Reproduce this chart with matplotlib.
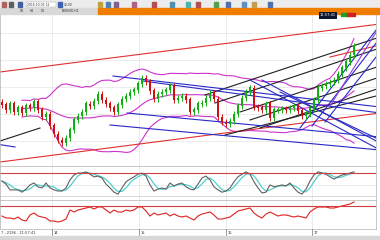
import numpy as np
import pandas as pd
import matplotlib
matplotlib.use("Agg")
import matplotlib.pyplot as plt
from matplotlib.patches import Rectangle

# closes (one per bar)
closes = [1.3061, 1.3056, 1.3062, 1.3054, 1.3058, 1.3053, 1.3060, 1.3058, 1.3064, 1.3056,
          1.3049, 1.3052, 1.3040, 1.3032, 1.3026, 1.3023, 1.3028, 1.3036, 1.3046, 1.3050,
          1.3054, 1.3062, 1.3060, 1.3065, 1.3072, 1.3066, 1.3062, 1.3058, 1.3054, 1.3061,
          1.3067, 1.3070, 1.3074, 1.3076, 1.3082, 1.3088, 1.3084, 1.3075, 1.3067, 1.3072,
          1.3074, 1.3076, 1.3080, 1.3066, 1.3068, 1.3070, 1.3066, 1.3054, 1.3056, 1.3062,
          1.3063, 1.3068, 1.3073, 1.3067, 1.3049, 1.3044, 1.3042, 1.3045, 1.3052, 1.3060,
          1.3068, 1.3074, 1.3078, 1.3059, 1.3058, 1.3056, 1.3062, 1.3048, 1.3056, 1.3056,
          1.3057, 1.3056, 1.3058, 1.3060, 1.3055, 1.3050, 1.3052, 1.3058, 1.3066, 1.3078,
          1.3080, 1.3082, 1.3084, 1.3086, 1.3092, 1.3098, 1.3104, 1.3111, 1.3120]

stoch_k = [59, 51, 36, 36, 36, 30, 38, 49, 54, 44, 41, 54, 41, 36, 33, 33, 41, 62, 75, 80,
           80, 83, 77, 70, 72, 67, 51, 41, 30, 25, 41, 57, 64, 70, 77, 80, 72, 49, 33, 38,
           41, 38, 54, 46, 51, 54, 44, 38, 36, 51, 67, 72, 62, 44, 36, 30, 33, 41, 57, 70,
           77, 83, 77, 57, 41, 28, 30, 49, 44, 46, 49, 46, 54, 41, 30, 25, 38, 59, 75, 83,
           80, 77, 70, 64, 70, 75, 77, 80, 83]

rsi = [50, 46, 46, 44, 48, 42, 40, 52, 56, 50, 48, 46, 40, 40, 38, 40, 44, 62, 58, 62,
       64, 66, 68, 64, 68, 68, 62, 56, 62, 58, 58, 62, 60, 62, 68, 68, 60, 50, 56, 52,
       54, 56, 50, 54, 50, 48, 50, 46, 42, 50, 54, 56, 58, 52, 44, 44, 46, 48, 54, 60,
       62, 64, 66, 56, 50, 46, 54, 58, 54, 50, 52, 52, 50, 48, 50, 48, 46, 58, 64, 68,
       68, 68, 66, 66, 68, 70, 72, 74, 78]

# drawn objects: (bar0, price0, bar1, price1)
red_lines = [(-0.5, 1.3094, 94.5, 1.3142), (-0.5, 1.3004, 94.5, 1.3053),
             (82, 1.3109, 94.5, 1.3121)]
black_lines = [(-0.5, 1.3025, 9.5, 1.3038), (50.75, 1.3071, 94.5, 1.3129),
               (53.25, 1.3063, 94.5, 1.3118), (59.5, 1.3054, 94.5, 1.3100),
               (62, 1.3046, 94.5, 1.3089), (64.5, 1.3038, 94.5, 1.3078),
               (55.75, 1.3031, 94.5, 1.3071)]
blue_lines = [(27.75, 1.3090, 94.5, 1.3059), (35.25, 1.3085, 94.5, 1.3053),
              (31.25, 1.3053, 94.5, 1.3029), (27, 1.3041, 94.5, 1.3016),
              (-3, 1.3023, 3.25, 1.3019), (62, 1.3086, 94.5, 1.3016),
              (65, 1.3086, 94.5, 1.3023), (69.5, 1.3074, 94.5, 1.3026),
              (74.5, 1.3038, 94.5, 1.3141), (77.5, 1.3040, 94.5, 1.3128),
              (80.75, 1.3044, 94.5, 1.3114)]
violet_lines = [(82, 1.3060, 94.5, 1.3140)]

day_bars = [12.5, 34.25, 56, 77.5]
day_labels = ["14", "15", "16", "17"]

W, H = 380, 240
fig = plt.figure(figsize=(3.8, 2.4), dpi=100)
fig.patch.set_facecolor("white")

def box(x, y, w, h):
    # pixel box -> figure fraction
    return [x / W, 1 - (y + h) / H, w / W, h / H]

# toolbar + tab row
fig.patches.append(Rectangle((0, 1 - 8 / H), 1, 8 / H, transform=fig.transFigure,
                             color="#ececec", zorder=0))
fig.patches.append(Rectangle((0, 1 - 14 / H), 98 / W, 6 / H, transform=fig.transFigure,
                             color="#d8d8d8", zorder=0))
fig.patches.append(Rectangle((98 / W, 1 - 14 / H), 1, 6 / H, transform=fig.transFigure,
                             color="#f07c00", zorder=0))
icons = [(2, "#b06060"), (9, "#606060"), (18, "#4060a0"), (58, "#4060b0"), (98, "#c0a040"),
         (106, "#5080b0"), (114, "#806090"), (132, "#b06080"), (152, "#b05050"),
         (170, "#5090b0"), (186, "#50b0b0"), (196, "#b05050"), (214, "#50a050"),
         (226, "#5070b0"), (242, "#6090c0"), (252, "#c0a050"), (268, "#5070b0")]
for ix, col in icons:
    fig.patches.append(Rectangle((ix / W, 1 - 6.5 / H), 4 / W, 4 / H,
                                 transform=fig.transFigure, color=col, zorder=1))
fig.patches.append(Rectangle((26 / W, 1 - 7 / H), 30 / W, 5 / H, transform=fig.transFigure,
                             facecolor="white", edgecolor="#a0a0a0", lw=0.3, zorder=1))
fig.text(27 / W, 1 - 4.5 / H, "2016.10.05 12", fontsize=2.2, va="center", color="#333333")
fig.text(64 / W, 1 - 4.5 / H, "12:00", fontsize=2.2, va="center", color="#333333")
for tx, lab in [(20, "H1"), (30, "H4"), (41, "D1"), (62, "EURUSD,H1")]:
    fig.text(tx / W, 1 - 11 / H, lab, fontsize=2.2, va="center", color="#333333")

# main chart
ax = fig.add_axes(box(0, 14, 376, 152))
x = np.arange(len(closes))
c = np.array(closes)
o = np.concatenate([[c[0] + 0.0003], c[:-1]])
hi = np.maximum(o, c) + 0.0003
lo = np.minimum(o, c) - 0.0003
up = c >= o
col = np.where(up, "#10b010", "#d01010")
ax.vlines(x, lo, hi, colors=col, lw=0.7, zorder=3)
ax.bar(x, np.abs(c - o) + 0.00005, bottom=np.minimum(o, c), width=0.55, color=col,
       zorder=4, linewidth=0)

s = pd.Series(c)
mid = s.rolling(20, min_periods=6).mean()
sd = s.rolling(20, min_periods=6).std(ddof=0)
for band in (mid + 2.5 * sd, mid, mid - 2.5 * sd):
    ax.plot(x, band, color="#cc33cc", lw=0.8, zorder=2)

for group, colr in [(red_lines, "#e03030"), (black_lines, "#202020"),
                    (blue_lines, "#2828c8"), (violet_lines, "#9040e0")]:
    for x0, y0, x1, y1 in group:
        ax.plot([x0, x1], [y0, y1], color=colr, lw=0.8, zorder=2)

ax.set_xlim(-0.5, 93.5)
ax.set_ylim(1.3000, 1.3152)
ax.set_yticks(np.arange(1.3025, 1.3150, 0.0027))
ax.set_xticks(day_bars)
ax.grid(True, color="#e4e4e4", lw=0.5)
ax.tick_params(length=0, labelbottom=False, labelleft=False)
for sp in ax.spines.values():
    sp.set_color("#b0b0b0")
    sp.set_linewidth(0.5)

# clock box
fig.text(328 / W, 1 - 15.5 / H, "11:57:41", fontsize=2.6, color="white", ha="center",
         va="center", bbox=dict(boxstyle="square,pad=0.3", fc="#101830", ec="none"))
fig.patches.append(Rectangle((341 / W, 1 - 16 / H), 6 / W, 3 / H, transform=fig.transFigure,
                             color="#20a020", zorder=5))
fig.patches.append(Rectangle((347 / W, 1 - 16 / H), 8 / W, 3 / H, transform=fig.transFigure,
                             color="#d02020", zorder=5))

# stochastic panel
ax2 = fig.add_axes(box(0, 166, 376, 34))
k = pd.Series(stoch_k, dtype=float)
ax2.plot(np.arange(len(k)), k.rolling(3, min_periods=1).mean(), color="#50d0d0", lw=0.9)
ax2.plot(np.arange(len(k)), k, color="#606060", lw=0.8)
ax2.axhline(80, color="#d04040", lw=0.8)
ax2.axhline(20, color="#c8c8c8", lw=0.5)
ax2.set_xlim(-0.5, 93.5)
ax2.set_ylim(9.6, 98.3)
ax2.set_xticks(day_bars)
ax2.set_yticks([50])
ax2.grid(True, color="#e4e4e4", lw=0.5)
ax2.tick_params(length=0, labelbottom=False, labelleft=False)
for sp in ax2.spines.values():
    sp.set_color("#b0b0b0")
    sp.set_linewidth(0.5)

# rsi panel
ax3 = fig.add_axes(box(0, 200, 376, 29))
ax3.plot(np.arange(len(rsi)), rsi, color="#e02020", lw=0.8)
ax3.axhline(70, color="#d04040", lw=0.8)
ax3.set_xlim(-0.5, 93.5)
ax3.set_ylim(24, 82)
ax3.set_xticks(day_bars)
ax3.set_yticks([])
ax3.grid(True, axis="x", color="#e4e4e4", lw=0.5)
ax3.tick_params(length=0, labelbottom=False, labelleft=False)
for sp in ax3.spines.values():
    sp.set_color("#b0b0b0")
    sp.set_linewidth(0.5)

# time axis labels
for d, lab in zip(day_bars, day_labels):
    xp = (2 + 4 * d) / W
    fig.add_artist(plt.Line2D([xp, xp], [1 - 229 / H, 1 - 235 / H], color="#707070", lw=0.5))
    fig.text(xp + 1.5 / W, 1 - 232.5 / H, lab, fontsize=2.6, va="center", color="#333333")
fig.text(1 / W, 1 - 232.5 / H, "7 - 2196 - 21:57:41", fontsize=2.6, va="center",
         color="#333333")
fig.patches.append(Rectangle((0, 0), 1, 4 / H, transform=fig.transFigure,
                             color="#d8d8d8", zorder=0))

fig.savefig("out.png", dpi=100)
